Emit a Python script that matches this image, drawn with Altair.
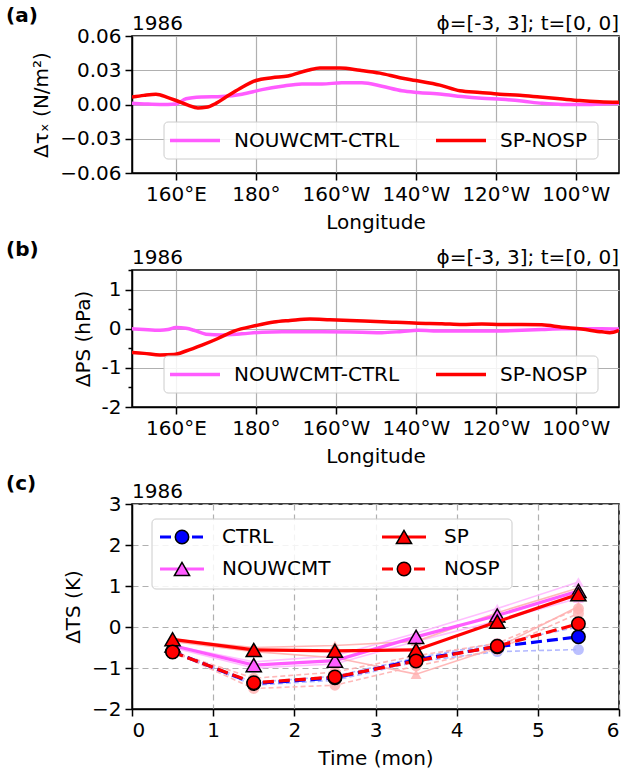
import altair as alt
import pandas as pd

FONT = "DejaVu Sans"
FS = 20

# ---------------- text ----------------
year_text = "1986"
region_text = "ϕ=[-3, 3]; t=[0, 0]"
panel_tags = ["(a)", "(b)", "(c)"]

# ---------------- panels (a), (b) ----------------
lon_ticks = [160, 180, 200, 220, 240, 260]
lon_domain = [149.0, 270.8]
diff_names = ["NOUWCMT-CTRL", "SP-NOSP"]
diff_colors = ["#ff5cff", "#ff0000"]

a_lon_1 = [149, 152, 156, 160, 162.5, 166.5, 171.5, 176.5, 181.5, 186.5, 191.5, 196.5, 201.5, 206.5,
           211.5, 216.5, 220.5, 226.5, 231.5, 236.5, 241.5, 246.5, 251.5, 256.5, 261.5, 266.5, 270.8]
a_val_1 = [0.001, 0.0005, 0.0, 0.0005, 0.005, 0.0065, 0.007, 0.009, 0.013, 0.016, 0.018, 0.018, 0.019,
           0.019, 0.016, 0.012, 0.0105, 0.009, 0.007, 0.0055, 0.0045, 0.003, 0.001, 0.0, 0.0, 0.0005, 0.001]
a_lon_2 = [149, 152, 155, 158, 160, 163, 165.5, 167.5, 170, 172.5, 176, 180, 184, 188, 193, 196, 201, 206,
           211, 216, 220, 226, 231, 236, 241, 246, 251, 256, 261, 266, 270.8]
a_val_2 = [0.0065, 0.008, 0.009, 0.006, 0.0035, -0.0005, -0.003, -0.0025, 0.001, 0.0065, 0.014, 0.021,
           0.0235, 0.025, 0.030, 0.032, 0.032, 0.030, 0.0275, 0.0235, 0.021, 0.017, 0.012, 0.0105, 0.009,
           0.008, 0.0065, 0.005, 0.0035, 0.0025, 0.002]

b_lon_1 = [149, 152, 156, 158, 160, 162.5, 164.5, 167.5, 171.5, 176.5, 181.5, 186.5, 196.5, 206.5, 211.5,
           216.5, 220.5, 226.5, 236.5, 246.5, 251.5, 256.5, 261.5, 266.5, 270.8]
b_val_1 = [0.0, -0.02, -0.04, -0.02, 0.03, 0.01, -0.04, -0.14, -0.16, -0.13, -0.09, -0.08, -0.08, -0.09,
           -0.1, -0.07, -0.04, -0.06, -0.06, -0.04, -0.02, 0.0, 0.0, 0.0, -0.01]
b_lon_2 = [149, 152, 156, 159.5, 162.5, 166.5, 170.5, 174.5, 180, 184.5, 188.5, 193.5, 198.5, 203.5, 211.5,
           220.5, 226.5, 231.5, 236.5, 241.5, 246.5, 251.5, 256.5, 261.5, 266.5, 268.5, 270.8]
b_val_2 = [-0.61, -0.63, -0.67, -0.66, -0.57, -0.42, -0.25, -0.06, 0.08, 0.17, 0.21, 0.25, 0.23, 0.21, 0.18,
           0.14, 0.13, 0.11, 0.12, 0.11, 0.11, 0.1, 0.04, -0.01, -0.08, -0.1, -0.04]

a_ticks = [-0.06, -0.03, 0.0, 0.03, 0.06]
b_ticks = [-2, -1.5, -1, -0.5, 0, 0.5, 1, 1.5]

# ---------------- panel (c) ----------------
times = [0.5, 1.5, 2.5, 3.5, 4.5, 5.5]
exp_names = ["CTRL", "NOUWCMT", "SP", "NOSP"]
exp_colors = ["#0000ff", "#ff5cff", "#ff0000", "#ff0000"]
exp_light = ["#aab0ff", "#ffb8ff", "#ffb0b0", "#ffb0b0"]
exp_shapes = ["circle", "triangle-up", "triangle-up", "circle"]
exp_dashed = [True, False, False, True]

ts_ctrl = [-0.60, -1.38, -1.24, -0.80, -0.48, -0.24]
ts_nouwcmt = [-0.45, -0.93, -0.82, -0.24, 0.28, 0.88]
ts_sp = [-0.30, -0.56, -0.58, -0.56, 0.13, 0.80]
ts_nosp = [-0.61, -1.36, -1.22, -0.83, -0.47, 0.08]
ts_main = [ts_ctrl, ts_nouwcmt, ts_sp, ts_nosp]

mem_ctrl = [[-0.60, -1.42, -1.30, -0.85, -0.60, -0.55], [-0.60, -1.35, -1.20, -0.75, -0.40, 0.00]]
mem_nouwcmt = [[-0.45, -0.85, -0.70, -0.15, 0.45, 1.10], [-0.50, -1.00, -0.90, -0.35, 0.15, 0.70]]
mem_sp = [[-0.30, -0.50, -0.45, -0.35, 0.35, 0.95], [-0.35, -0.60, -0.75, -1.15, -0.50, 0.50]]
mem_nosp = [[-0.60, -1.50, -1.42, -0.95, -0.55, 0.33], [-0.60, -1.25, -1.10, -0.70, -0.40, 0.45]]
ts_members = [mem_ctrl, mem_nouwcmt, mem_sp, mem_nosp]

c_xticks = [0, 1, 2, 3, 4, 5, 6]
c_yticks = [-2, -1, 0, 1, 2, 3]

# ---------------- layout constants ----------------
W = 487
H_A, H_B, H_C = 137, 137, 205
TAG_X = -126
TAG_Y = -20
GRID = "#b0b0b0"
LEG_AB_BOX = (32, 466, 86, 123)
LEG_AB_LINE_X = [38, 304]
LEG_AB_LINE_LEN = 50
LEG_AB_TEXT_GAP = 14

LON_EXPR = ("datum.value < 180 ? datum.value + '°E' : "
            "(datum.value == 180 ? '180°' : (360 - datum.value) + '°W')")

ONE = pd.DataFrame({"a": [0]})


def text_layer(txt, x, y, align="left", baseline="middle", weight="normal"):
    return alt.Chart(pd.DataFrame({"t": [txt]})).mark_text(
        align=align, baseline=baseline, font=FONT, fontSize=FS, fontWeight=weight, color="black"
    ).encode(x=alt.value(x), y=alt.value(y), text="t:N")


def legend_box(box):
    return alt.Chart(ONE).mark_rect(fill="white", fillOpacity=0.85, stroke="#cccccc", strokeWidth=1,
                                    cornerRadius=4).encode(
        x=alt.value(box[0]), x2=alt.value(box[1]), y=alt.value(box[2]), y2=alt.value(box[3]))


def annotations(tag, with_region=True):
    out = [text_layer(tag, TAG_X, TAG_Y, weight="bold"),
           text_layer(year_text, 0, -2, baseline="bottom")]
    if with_region:
        out.append(text_layer(region_text, W, -2, align="right", baseline="bottom"))
    return out


def lon_panel(lons, vals, ytitle, ydom, yticks, ylabexpr, tag, height, minor=False):
    x = alt.X("lon:Q", scale=alt.Scale(domain=lon_domain, nice=False, zero=False),
              axis=alt.Axis(values=lon_ticks, labelExpr=LON_EXPR, title="Longitude",
                            grid=True, labelOverlap=False, titlePadding=8))
    yaxis_kw = dict(values=yticks, labelExpr=ylabexpr, title=ytitle, grid=True, labelOverlap=False)
    if minor:
        yaxis_kw["tickSize"] = {"condition": {"test": "datum.value % 1 != 0", "value": 4}, "value": 7}
        yaxis_kw["gridOpacity"] = {"condition": {"test": "datum.value % 1 != 0", "value": 0}, "value": 1}
    y = alt.Y("val:Q", scale=alt.Scale(domain=ydom, nice=False, zero=False), axis=alt.Axis(**yaxis_kw))
    layers = []
    for name, col, lo, va in zip(diff_names, diff_colors, lons, vals):
        df = pd.DataFrame({"lon": lo, "val": va})
        layers.append(alt.Chart(df).mark_line(strokeWidth=3.5, interpolate="monotone", clip=True,
                                              color=col).encode(x=x, y=y))
    # legend
    layers.append(legend_box(LEG_AB_BOX))
    row_y = (LEG_AB_BOX[2] + LEG_AB_BOX[3]) / 2
    for name, col, x0 in zip(diff_names, diff_colors, LEG_AB_LINE_X):
        layers.append(alt.Chart(ONE).mark_rule(strokeWidth=3.5, color=col).encode(
            x=alt.value(x0), x2=alt.value(x0 + LEG_AB_LINE_LEN), y=alt.value(row_y)))
        layers.append(text_layer(name, x0 + LEG_AB_LINE_LEN + LEG_AB_TEXT_GAP, row_y))
    layers += annotations(tag)
    return alt.layer(*layers).properties(width=W, height=height)


A_EXPR = "datum.value < 0 ? '\u2212' + format(-datum.value, '.2f') : format(datum.value, '.2f')"
B_EXPR = "datum.value % 1 != 0 ? '' : (datum.value < 0 ? '-' + (-datum.value) : '' + datum.value)"
C_YEXPR = "datum.value < 0 ? '\u2212' + (-datum.value) : '' + datum.value"

chart_a = lon_panel([a_lon_1, a_lon_2], [a_val_1, a_val_2], "Δτₓ (N/m²)", [-0.06, 0.06], a_ticks,
                    A_EXPR, panel_tags[0], H_A)
chart_b = lon_panel([b_lon_1, b_lon_2], [b_val_1, b_val_2], "ΔPS (hPa)", [-2, 1.5], b_ticks,
                    B_EXPR, panel_tags[1], H_B, minor=True)

# ---------------- panel (c) ----------------
cx = alt.X("time:Q", scale=alt.Scale(domain=[0, 6], nice=False, zero=False),
           axis=alt.Axis(values=c_xticks, labelExpr="'' + datum.value", title="Time (mon)",
                         grid=True, gridDash=[6, 4], titlePadding=8, labelOverlap=False))
cy = alt.Y("val:Q", scale=alt.Scale(domain=[-2, 3], nice=False, zero=False),
           axis=alt.Axis(values=c_yticks, labelExpr=C_YEXPR, title="ΔTS (K)", grid=True,
                         gridDash=[6, 4]))

c_layers = []
for i, name in enumerate(exp_names):
    for k, mem in enumerate(ts_members[i]):
        df = pd.DataFrame({"time": times, "val": mem})
        line_kw = dict(strokeWidth=1.6, color=exp_light[i], opacity=0.9)
        if exp_dashed[i]:
            line_kw["strokeDash"] = [5, 3]
        c_layers.append(alt.Chart(df).mark_line(**line_kw).encode(x=cx, y=cy))
        c_layers.append(alt.Chart(df).mark_point(shape=exp_shapes[i], size=120, filled=True,
                                                 color=exp_light[i], opacity=0.8)
                        .encode(x=cx, y=cy))

for i, name in enumerate(exp_names):
    df = pd.DataFrame({"time": times, "val": ts_main[i]})
    line_kw = dict(strokeWidth=3.2, color=exp_colors[i])
    if exp_dashed[i]:
        line_kw["strokeDash"] = [11, 5]
    c_layers.append(alt.Chart(df).mark_line(**line_kw).encode(x=cx, y=cy))
    size = 230 if exp_shapes[i] == "triangle-up" else 180
    c_layers.append(alt.Chart(df).mark_point(shape=exp_shapes[i], size=size, filled=True,
                                             fill=exp_colors[i], stroke="black", strokeWidth=1.5,
                                             opacity=1).encode(x=cx, y=cy))

# manual legend for (c)
LEG_C_BOX = (20, 380, 15, 85)
LEG_C_COL_X = [28, 250]
LEG_C_ROW_Y = [33, 65]
c_layers.append(legend_box(LEG_C_BOX))
for i, name in enumerate(exp_names):
    col, row = i // 2, i % 2
    x0 = LEG_C_COL_X[col]
    yy = LEG_C_ROW_Y[row]
    rule_kw = dict(strokeWidth=3.2, color=exp_colors[i])
    if exp_dashed[i]:
        rule_kw["strokeDash"] = [11, 5]
    c_layers.append(alt.Chart(ONE).mark_rule(**rule_kw).encode(
        x=alt.value(x0), x2=alt.value(x0 + 44), y=alt.value(yy)))
    size = 230 if exp_shapes[i] == "triangle-up" else 180
    c_layers.append(alt.Chart(ONE).mark_point(shape=exp_shapes[i], size=size, filled=True,
                                              fill=exp_colors[i], stroke="black", strokeWidth=1.5,
                                              opacity=1).encode(x=alt.value(x0 + 22), y=alt.value(yy)))
    c_layers.append(text_layer(name, x0 + 62, yy))

c_layers += annotations(panel_tags[2], with_region=False)

chart_c = alt.layer(*c_layers).properties(width=W, height=H_C)

chart = (alt.vconcat(chart_a, chart_b, chart_c, spacing=6)
         .properties(padding={"left": 5, "top": 5, "right": 0, "bottom": 0})
         .configure(font=FONT)
         .configure_view(stroke="black", strokeWidth=1.5)
         .configure_axis(labelFont=FONT, labelFontSize=FS, labelColor="black",
                         titleFont=FONT, titleFontSize=FS, titleFontWeight="normal", titleColor="black",
                         domainColor="black", domainWidth=1.5, tickColor="black", tickWidth=1.5,
                         tickSize=7, labelPadding=4, gridColor=GRID, gridWidth=1.2, titlePadding=8))

chart.save("out.html", embed_options={"renderer": "svg", "actions": False})
